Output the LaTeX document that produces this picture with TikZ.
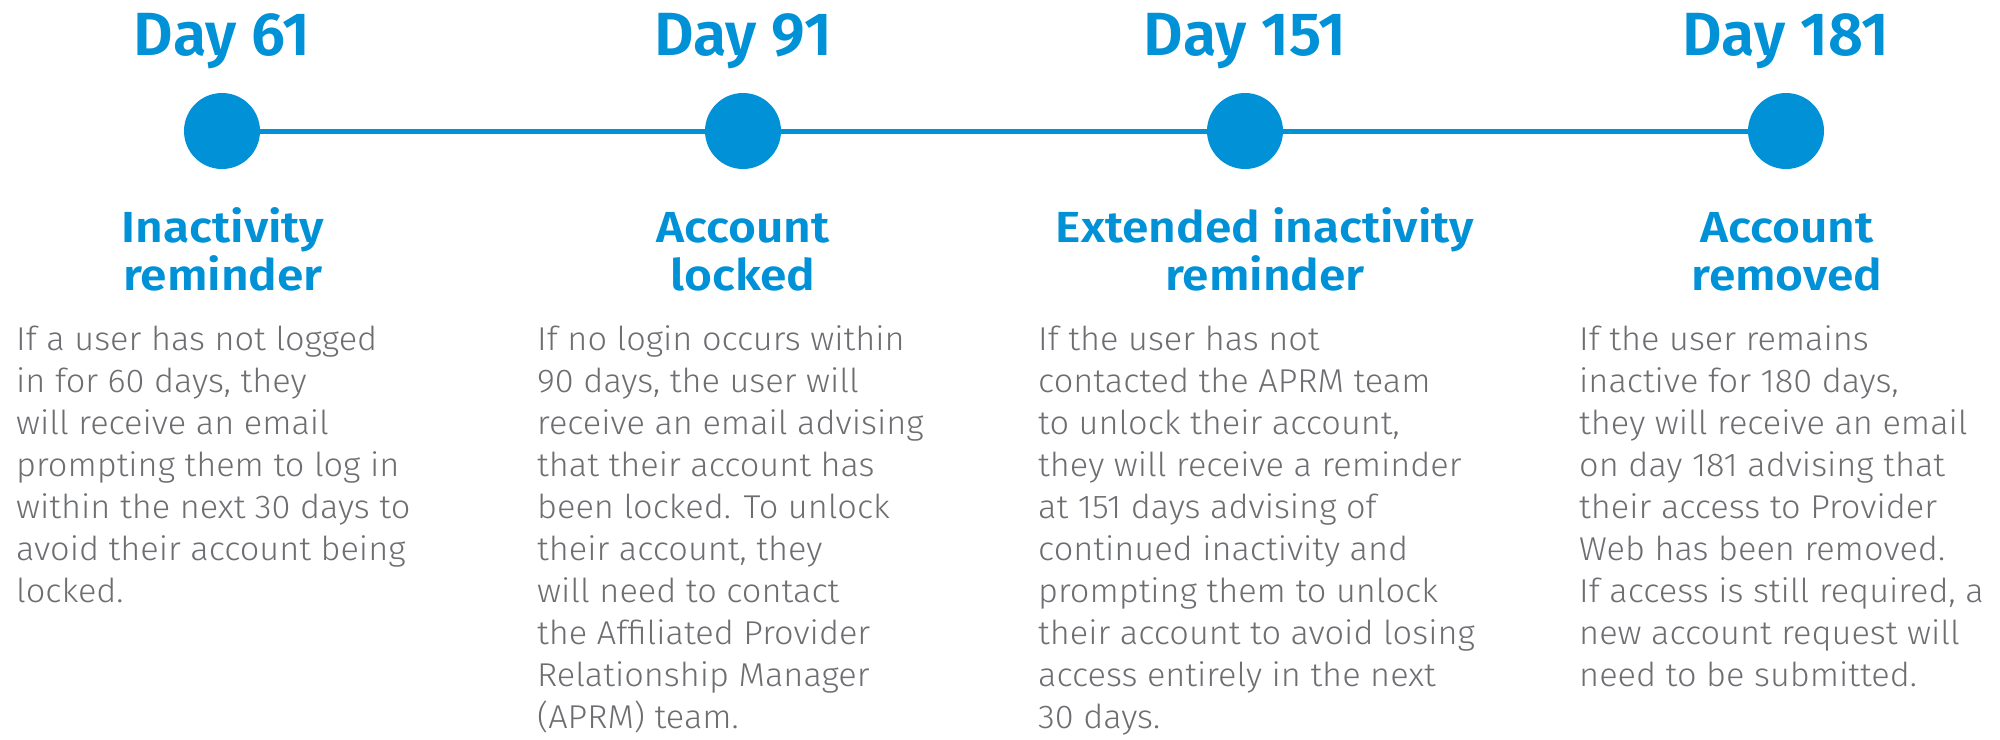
\documentclass[tikz,border=0pt]{standalone}
\usepackage{fontspec}
\newfontfamily\headfont{Fira Sans SemiBold}
\newfontfamily\titlefont{Fira Sans SemiBold}[FakeStretch=1.1]
\newfontfamily\bodyfont{Fira Sans Light}[FakeStretch=1.04]

\definecolor{skyblue}{HTML}{0091D7}
\definecolor{textgray}{HTML}{6D6E71}

% base of a multi-line node sits on its last line
\tikzset{
  stopdot/.style={circle, fill=skyblue, minimum size=76pt, inner sep=0pt},
  daylabel/.style={anchor=base, text=skyblue, inner sep=0pt, font=\headfont\fontsize{61}{61}\selectfont},
  stagetitle/.style={anchor=base, align=center, text=skyblue, inner sep=0pt, font=\titlefont\fontsize{43.5}{48}\selectfont},
  stagetext/.style={anchor=base west, align=left, text=textgray, inner sep=0pt, font=\bodyfont\fontsize{33}{42}\selectfont},
  timeline/.style={draw=skyblue, line width=5pt}
}

\begin{document}
\begin{tikzpicture}[x=1pt, y=-1pt]
\useasboundingbox (0,0) rectangle (2000,739);

\node (dot61) at (222,131) [stopdot] {};
\node (dot91) at (743,131) [stopdot] {};
\node (dot151) at (1245,131) [stopdot] {};
\node (dot181) at (1786,131) [stopdot] {};
\draw[timeline] (dot61) -- (dot91) -- (dot151) -- (dot181);

\node (day61) at (222,55) [daylabel] {Day 61};
\node (day91) at (743,55) [daylabel] {Day 91};
\node (day151) at (1245,55) [daylabel] {Day 151};
\node (day181) at (1786,55) [daylabel] {Day 181};

\node (title61) at (223,290) [stagetitle] {Inactivity\\reminder};
\node (title91) at (743,290) [stagetitle] {Account\\locked};
\node (title151) at (1265,290) [stagetitle] {Extended inactivity\\reminder};
\node (title181) at (1787,290) [stagetitle] {Account\\removed};

\node (text61) at (16,602) [stagetext] {If a user has not logged\\
  in for 60 days, they\\
  will receive an email\\
  prompting them to log in\\
  within the next 30 days to\\
  avoid their account being\\
  locked.};
\node (text91) at (537,728) [stagetext] {If no login occurs within\\
  90 days, the user will\\
  receive an email advising\\
  that their account has\\
  been locked. To unlock\\
  their account, they\\
  will need to contact\\
  the Affiliated Provider\\
  Relationship Manager\\
  (APRM) team.};
\node (text151) at (1038,728) [stagetext] {If the user has not\\
  contacted the APRM team\\
  to unlock their account,\\
  they will receive a reminder\\
  at 151 days advising of\\
  continued inactivity and\\
  prompting them to unlock\\
  their account to avoid losing\\
  access entirely in the next\\
  30 days.};
\node (text181) at (1579,686) [stagetext] {If the user remains\\
  inactive for 180 days,\\
  they will receive an email\\
  on day 181 advising that\\
  their access to Provider\\
  Web has been removed.\\
  If access is still required, a\\
  new account request will\\
  need to be submitted.};
\end{tikzpicture}
\end{document}
